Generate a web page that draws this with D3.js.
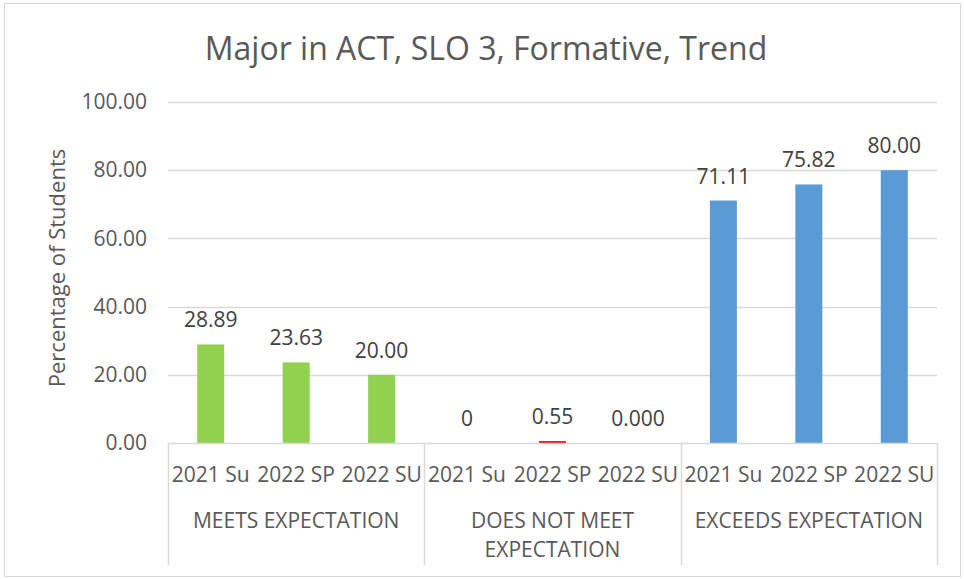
<!DOCTYPE html>
<html lang="en">
<head>
<meta charset="UTF-8"/>
<title>Major in ACT, SLO 3, Formative, Trend</title>
<script src="https://d3js.org/d3.v7.min.js"></script>
<style>
  body { margin: 0; background: #fff; }
  text { font-family: "Open Sans", "Noto Sans", sans-serif; fill: #595959; }
</style>
</head>
<body>
<div id="chart"></div>
<script>
// data
var groups = ["MEETS EXPECTATION", "DOES NOT MEET EXPECTATION", "EXCEEDS EXPECTATION"];
var groupLines = [["MEETS EXPECTATION"], ["DOES NOT MEET", "EXPECTATION"], ["EXCEEDS EXPECTATION"]];
var periods = ["2021 Su", "2022 SP", "2022 SU"];
var meetsValues = [28.89, 23.63, 20.00];
var notMeetValues = [0, 0.55, 0];
var exceedsValues = [71.11, 75.82, 80.00];
var meetsLabels = ["28.89", "23.63", "20.00"];
var notMeetLabels = ["0", "0.55", "0.000"];
var exceedsLabels = ["71.11", "75.82", "80.00"];
var yTicks = [0, 20, 40, 60, 80, 100];
var colors = ["#92d050", "#ff0000", "#5b9bd5"];

var allValues = [meetsValues, notMeetValues, exceedsValues];
var allLabels = [meetsLabels, notMeetLabels, exceedsLabels];

var w = 964, h = 579;
var plotLeft = 168, plotRight = 937, plotTop = 102, plotBottom = 443;

var svg = d3.select("#chart").append("svg")
    .attr("width", w)
    .attr("height", h);

// chart border
svg.append("rect")
    .attr("x", 4.5).attr("y", 3.5)
    .attr("width", w - 8).attr("height", h - 6)
    .attr("fill", "none")
    .attr("stroke", "#d9d9d9");

var x0 = d3.scaleBand()
    .domain(groups)
    .range([plotLeft, plotRight]);

var x1 = d3.scaleBand()
    .domain(periods)
    .range([0, x0.bandwidth()])
    .paddingInner(0.684)
    .paddingOuter(0.342);

var y = d3.scaleLinear()
    .domain([0, 100])
    .range([plotBottom, plotTop]);

// title
svg.append("text")
    .attr("x", 486).attr("y", 60)
    .attr("text-anchor", "middle")
    .attr("font-size", "32px")
    .text("Major in ACT, SLO 3, Formative, Trend");

// gridlines
svg.append("g")
    .selectAll("line")
    .data(yTicks.filter(function(d) { return d > 0; }))
    .enter().append("line")
    .attr("x1", plotLeft).attr("x2", plotRight)
    .attr("y1", function(d) { return Math.round(y(d)) + 0.5; })
    .attr("y2", function(d) { return Math.round(y(d)) + 0.5; })
    .attr("stroke", "#d9d9d9")
    .attr("stroke-width", 1.5);

// y axis labels
var yAxis = d3.axisLeft(y)
    .tickValues(yTicks)
    .tickFormat(d3.format(".2f"))
    .tickSize(0)
    .tickPadding(21);

var yg = svg.append("g")
    .attr("transform", "translate(" + plotLeft + ",0)")
    .call(yAxis);
yg.select(".domain").remove();
yg.selectAll("text")
    .attr("font-size", "21px")
    .attr("fill", "#595959")
    .style("font-family", "'Open Sans', sans-serif");

// y title
svg.append("text")
    .attr("transform", "translate(65,268) rotate(-90)")
    .attr("text-anchor", "middle")
    .attr("font-size", "22px")
    .text("Percentage of Students");

// bars
groups.forEach(function(g, gi) {
    var gEl = svg.append("g")
        .attr("transform", "translate(" + x0(g) + ",0)");

    gEl.selectAll("rect")
        .data(allValues[gi])
        .enter().append("rect")
        .attr("x", function(d, i) { return x1(periods[i]); })
        .attr("y", function(d) { return y(d); })
        .attr("width", x1.bandwidth())
        .attr("height", function(d) { return plotBottom - y(d); })
        .attr("fill", colors[gi]);

    gEl.selectAll("text.val")
        .data(allValues[gi])
        .enter().append("text")
        .attr("class", "val")
        .attr("x", function(d, i) { return x1(periods[i]) + x1.bandwidth() / 2; })
        .attr("y", function(d) { return y(d) - 17; })
        .attr("text-anchor", "middle")
        .attr("font-size", "21px")
        .style("fill", "#404040")
        .text(function(d, i) { return allLabels[gi][i]; });

    // period labels
    gEl.selectAll("text.cat")
        .data(periods)
        .enter().append("text")
        .attr("class", "cat")
        .attr("x", function(d) { return x1(d) + x1.bandwidth() / 2; })
        .attr("y", 482)
        .attr("text-anchor", "middle")
        .attr("font-size", "21px")
        .text(function(d) { return d; });

    // group label
    gEl.selectAll("text.grp")
        .data(groupLines[gi])
        .enter().append("text")
        .attr("class", "grp")
        .attr("x", x0.bandwidth() / 2)
        .attr("y", function(d, i) { return 528 + i * 29; })
        .attr("text-anchor", "middle")
        .attr("font-size", "21px")
        .text(function(d) { return d; });
});

// bottom axis line and dividers
svg.append("line")
    .attr("x1", plotLeft).attr("x2", plotRight)
    .attr("y1", plotBottom + 0.5).attr("y2", plotBottom + 0.5)
    .attr("stroke", "#d9d9d9")
    .attr("stroke-width", 1.5);

var dividers = groups.map(function(g) { return x0(g); }).concat([plotRight]);
svg.append("g")
    .selectAll("line")
    .data(dividers)
    .enter().append("line")
    .attr("x1", function(d) { return Math.round(d) + 0.5; })
    .attr("x2", function(d) { return Math.round(d) + 0.5; })
    .attr("y1", plotBottom).attr("y2", 565)
    .attr("stroke", "#d9d9d9")
    .attr("stroke-width", 1.5);
</script>
</body>
</html>
